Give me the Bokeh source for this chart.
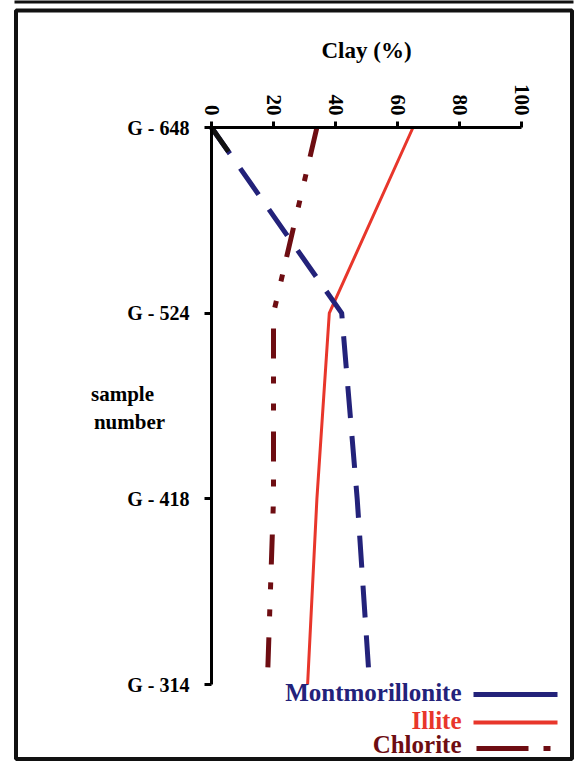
import math
from bokeh.plotting import figure
from bokeh.models import Range1d, LinearAxis, FixedTicker, BoxAnnotation
from bokeh.core.properties import value
from bokeh.embed import file_html
from bokeh.resources import INLINE

# ---- data ----
samples = ["G - 648", "G - 524", "G - 418", "G - 314"]
sample_pos = [0, 1, 2, 3]
montmorillonite = [0, 42, 47, 51]
illite = [65, 38, 34, 31]
chlorite = [34, 20, 20, 18]
clay_ticks = [0, 20, 40, 60, 80, 100]

# ---- pixel <-> data helpers (layout only) ----
X0, XS = 211.0, 3.1          # x=0 at pixel 211, 3.1 px per %
Y0, YS = 127.0, 185.67       # G-648 at pixel 127, 185.67 px per sample step
W, H = 581, 762

def X(px):
    return (px - X0) / XS

def Y(py):
    return (py - Y0) / YS

FONT = value("Liberation Serif")
NAVY = "#23227a"
RED = "#e8362b"
MAROON = "#6e0d12"

p = figure(width=W, height=H, output_backend="svg", toolbar_location=None,
           x_range=Range1d(X(0), X(W)), y_range=Range1d(Y(H), Y(0)),
           x_axis_location=None, y_axis_location=None,
           min_border=0, min_border_left=0, min_border_right=0,
           min_border_top=0, min_border_bottom=0)
p.outline_line_color = None
p.xgrid.visible = False
p.ygrid.visible = False
p.background_fill_color = "white"
p.border_fill_color = "white"

# ---- axes ----
xa = LinearAxis(fixed_location=0, ticker=FixedTicker(ticks=clay_ticks), bounds=(0, 100))
xa.axis_line_width = 3
xa.major_tick_line_width = 3
xa.major_tick_out = 6
xa.major_tick_in = 0
xa.minor_tick_out = 0
xa.minor_tick_in = 0
xa.major_label_orientation = -math.pi / 2
xa.major_label_text_font = "Liberation Serif"
xa.major_label_text_font_style = "bold"
xa.major_label_text_font_size = "21px"
xa.major_label_text_color = "black"
xa.major_label_standoff = 6
p.add_layout(xa, "above")

ya = LinearAxis(fixed_location=0, ticker=FixedTicker(ticks=sample_pos), bounds=(0, 3))
ya.major_label_overrides = {i: s for i, s in zip(sample_pos, samples)}
ya.axis_line_width = 3
ya.major_tick_line_width = 3
ya.major_tick_out = 7
ya.major_tick_in = 0
ya.minor_tick_out = 0
ya.minor_tick_in = 0
ya.major_label_text_font = "Liberation Serif"
ya.major_label_text_font_style = "bold"
ya.major_label_text_font_size = "20px"
ya.major_label_text_color = "black"
ya.major_label_standoff = 15
p.add_layout(ya, "left")

# ---- curves ----
p.line(chlorite, sample_pos, line_color=MAROON, line_width=5,
       line_dash="30 18 7 20 7 21", line_join="round")
p.line(illite, sample_pos, line_color=RED, line_width=3, line_join="round")
p.line(montmorillonite, sample_pos, line_color=NAVY, line_width=5,
       line_dash="32 18", line_join="round")
# first dash of the montmorillonite line is black in the original
t = 0.13
p.segment(x0=[montmorillonite[0]], y0=[sample_pos[0]],
          x1=[montmorillonite[0] + t * (montmorillonite[1] - montmorillonite[0])],
          y1=[sample_pos[0] + t * (sample_pos[1] - sample_pos[0])],
          line_color="#111111", line_width=5)

# ---- texts ----
p.text(x=[X(366)], y=[Y(50)], text=["Clay (%)"], text_font=FONT, text_font_style="bold",
       text_font_size="23px", text_align="center", text_baseline="middle", text_color="black")
p.text(x=[X(122), X(129)], y=[Y(393), Y(421)], text=["sample", "number"], text_font=FONT,
       text_font_style="bold", text_font_size="21px", text_align="center",
       text_baseline="middle", text_color="black")

# ---- legend (text left, line sample right) ----
leg_names = ["Montmorillonite", "Illite", "Chlorite"]
leg_colors = [NAVY, RED, MAROON]
leg_y = [692, 720, 744]
p.text(x=[X(461)] * 3, y=[Y(v) for v in leg_y], text=leg_names, text_font=FONT,
       text_font_style="bold", text_font_size="25px", text_align="right",
       text_baseline="middle", text_color=leg_colors)
p.segment(x0=[X(473)], y0=[Y(694)], x1=[X(557)], y1=[Y(694)], line_color=NAVY, line_width=5)
p.segment(x0=[X(473)], y0=[Y(722)], x1=[X(557)], y1=[Y(722)], line_color=RED, line_width=4)
p.segment(x0=[X(476)], y0=[Y(748)], x1=[X(552)], y1=[Y(748)], line_color=MAROON, line_width=5,
          line_dash="52 15 7 30")

# ---- frame borders ----
p.add_layout(BoxAnnotation(left=X(15.5), right=X(571.5), top=Y(10), bottom=Y(758.5),
                           fill_alpha=0, line_color="#111111", line_alpha=1, line_width=4))
p.segment(x0=[X(14)], y0=[Y(1)], x1=[X(573)], y1=[Y(1)], line_color="#111111", line_width=4)

open("out.html", "w").write(file_html(p, INLINE))
